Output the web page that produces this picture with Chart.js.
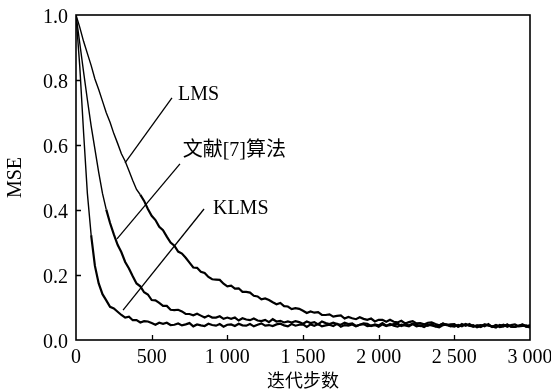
<!DOCTYPE html>
<html><head><meta charset="utf-8">
<script src="https://cdn.jsdelivr.net/npm/chart.js@4"></script>
<style>html,body{margin:0;padding:0;background:#fff}#wrap{width:551px;height:391px}</style>
</head><body><div id="wrap"><canvas id="c" width="551" height="391"></canvas></div>
<script>
const iterations = [0,25,50,75,100,125,150,175,200,225,250,275,300,325,350,375,400,425,450,475,500,525,550,575,600,625,650,675,700,725,750,775,800,825,850,875,900,925,950,975,1000,1025,1050,1075,1100,1125,1150,1175,1200,1225,1250,1275,1300,1325,1350,1375,1400,1425,1450,1475,1500,1525,1550,1575,1600,1625,1650,1675,1700,1725,1750,1775,1800,1825,1850,1875,1900,1925,1950,1975,2000,2025,2050,2075,2100,2125,2150,2175,2200,2225,2250,2275,2300,2325,2350,2375,2400,2425,2450,2475,2500,2525,2550,2575,2600,2625,2650,2675,2700,2725,2750,2775,2800,2825,2850,2875,2900,2925,2950,2975,3000];

const mseLMS = [1.000,0.962,0.919,0.882,0.845,0.803,0.771,0.735,0.699,0.670,0.635,0.605,0.573,0.550,0.521,0.491,0.463,0.447,0.428,0.403,0.382,0.369,0.348,0.338,0.318,0.300,0.290,0.272,0.266,0.253,0.238,0.223,0.222,0.210,0.206,0.194,0.187,0.186,0.185,0.173,0.165,0.167,0.158,0.159,0.148,0.148,0.146,0.136,0.134,0.125,0.128,0.123,0.116,0.110,0.114,0.104,0.103,0.095,0.098,0.096,0.090,0.083,0.088,0.084,0.086,0.077,0.077,0.079,0.072,0.074,0.076,0.066,0.071,0.067,0.064,0.070,0.065,0.062,0.066,0.057,0.062,0.062,0.056,0.062,0.056,0.054,0.059,0.051,0.055,0.058,0.051,0.052,0.048,0.053,0.054,0.049,0.045,0.051,0.046,0.048,0.049,0.041,0.049,0.044,0.049,0.041,0.044,0.046,0.042,0.049,0.040,0.045,0.043,0.047,0.041,0.046,0.048,0.042,0.043,0.045,0.040];

const mseRef7 = [1.000,0.913,0.825,0.740,0.659,0.587,0.516,0.451,0.401,0.360,0.325,0.293,0.270,0.240,0.220,0.196,0.174,0.165,0.147,0.140,0.123,0.122,0.114,0.105,0.105,0.093,0.092,0.093,0.088,0.080,0.080,0.076,0.081,0.075,0.069,0.075,0.069,0.069,0.073,0.065,0.069,0.065,0.069,0.060,0.067,0.063,0.061,0.066,0.060,0.058,0.062,0.055,0.064,0.057,0.059,0.054,0.057,0.054,0.058,0.055,0.050,0.057,0.052,0.055,0.048,0.057,0.052,0.049,0.053,0.049,0.047,0.053,0.049,0.051,0.043,0.047,0.051,0.050,0.043,0.048,0.045,0.052,0.044,0.046,0.049,0.050,0.043,0.047,0.045,0.050,0.047,0.043,0.048,0.044,0.049,0.042,0.045,0.050,0.046,0.042,0.047,0.041,0.045,0.048,0.044,0.046,0.039,0.043,0.048,0.045,0.041,0.046,0.040,0.042,0.048,0.041,0.040,0.044,0.047,0.041,0.046];

const mseKLMS = [1.000,0.841,0.639,0.452,0.323,0.228,0.174,0.141,0.122,0.102,0.097,0.087,0.077,0.069,0.072,0.061,0.061,0.054,0.058,0.057,0.052,0.047,0.053,0.050,0.053,0.046,0.047,0.051,0.045,0.048,0.052,0.042,0.048,0.045,0.043,0.050,0.046,0.044,0.049,0.041,0.047,0.048,0.043,0.050,0.045,0.044,0.049,0.042,0.047,0.051,0.044,0.046,0.043,0.048,0.050,0.045,0.042,0.049,0.044,0.047,0.048,0.040,0.048,0.044,0.049,0.042,0.045,0.047,0.043,0.050,0.041,0.046,0.044,0.048,0.042,0.047,0.049,0.043,0.044,0.046,0.041,0.048,0.043,0.049,0.044,0.041,0.047,0.045,0.042,0.049,0.042,0.045,0.040,0.047,0.045,0.042,0.039,0.046,0.048,0.043,0.041,0.046,0.042,0.049,0.044,0.041,0.045,0.040,0.047,0.045,0.042,0.038,0.046,0.043,0.047,0.041,0.040,0.044,0.048,0.042,0.039];

const seriesNames = ['LMS', '文献[7]算法', 'KLMS'];
const xTickLabels = ['0','500','1 000','1 500','2 000','2 500','3 000'];
const yTickLabels = ['0.0','0.2','0.4','0.6','0.8','1.0'];
const xTitle = '迭代步数';
const yTitle = 'MSE';

// annotation leader lines (data coordinates: [iteration, mse] start -> end)
const leaderLMS  = [[634,0.745],[324,0.545]];
const leaderRef7 = [[687,0.542],[271,0.311]];
const leaderKLMS = [[846,0.403],[311,0.092]];
// annotation label anchors (left edge, vertical middle)
const labelAnchors = [[674,0.755],[705,0.582],[905,0.405]];

function toPts(xs, ys){ return ys.map((v,i)=>({x:xs[i], y:v})); }
function leader(p){ return p.map(q=>({x:q[0], y:q[1]})); }

const serif = "'Liberation Serif','DejaVu Serif',serif";
const cjk = "'Liberation Serif','Noto Sans CJK SC',serif";

const frameAndLabels = {
  id:'frameAndLabels',
  afterDatasetsDraw(chart){
    const {ctx, chartArea:a, scales:{x, y}} = chart;
    ctx.save();
    ctx.strokeStyle = '#000';
    ctx.lineWidth = 1.6;
    ctx.strokeRect(a.left, a.top, a.right - a.left, a.bottom - a.top);
    ctx.lineWidth = 1.3;
    ctx.beginPath();
    x.ticks.forEach((t,i)=>{
      if (t.value <= x.min || t.value >= x.max) return;
      const px = Math.round(x.getPixelForTick(i)) + 0.5;
      ctx.moveTo(px, a.bottom); ctx.lineTo(px, a.bottom - 5);
    });
    y.ticks.forEach((t,i)=>{
      if (t.value <= y.min || t.value >= y.max) return;
      const py = Math.round(y.getPixelForTick(i)) + 0.5;
      ctx.moveTo(a.left, py); ctx.lineTo(a.left + 5, py);
    });
    ctx.stroke();
    ctx.fillStyle = '#000';
    ctx.textBaseline = 'middle';
    ctx.textAlign = 'left';
    seriesNames.forEach((name,i)=>{
      ctx.font = (i === 1 ? "20px " + cjk : "20px " + serif);
      ctx.fillText(name, x.getPixelForValue(labelAnchors[i][0]), y.getPixelForValue(labelAnchors[i][1]));
    });
    ctx.restore();
  }
};

const curveDs = (label, data) => ({label, data, borderColor:'#000', backgroundColor:'#000', borderWidth:2.2,
  pointRadius:0, showLine:true, tension:0, fill:false, borderJoinStyle:'miter',
  segment:{ borderWidth: c => (c.p0.parsed.y > 0.45 ? 1.4 : 2.2) } });
const leaderDs = (label, data) => ({label, data, borderColor:'#000', backgroundColor:'#000', borderWidth:1.3, pointRadius:0, showLine:true, tension:0, fill:false});

new Chart(document.getElementById('c'), {
  type:'scatter',
  data:{ datasets:[
    curveDs(seriesNames[0], toPts(iterations, mseLMS)),
    curveDs(seriesNames[1], toPts(iterations, mseRef7)),
    curveDs(seriesNames[2], toPts(iterations, mseKLMS)),
    leaderDs('leader LMS', leader(leaderLMS)),
    leaderDs('leader Ref7', leader(leaderRef7)),
    leaderDs('leader KLMS', leader(leaderKLMS))
  ]},
  options:{
    responsive:false, animation:false, devicePixelRatio:1,
    layout:{padding:{left:0, top:15, right:21, bottom:0}},
    plugins:{legend:{display:false}, tooltip:{enabled:false}},
    scales:{
      x:{ type:'linear', min:0, max:3000,
        border:{display:false}, grid:{display:false, drawTicks:false},
        ticks:{ stepSize:500, padding:6, color:'#000', font:{family:serif, size:20},
          maxRotation:0, autoSkip:false,
          callback:(v,i)=> xTickLabels[i] },
        title:{display:true, text:xTitle, color:'#000', font:{family:cjk, size:18, lineHeight:1}, padding:{top:0,bottom:0}},
        afterFit(s){ s.height = 51; s.paddingLeft = 0; s.paddingRight = 0; }
      },
      y:{ type:'linear', min:0, max:1,
        border:{display:false}, grid:{display:false, drawTicks:false},
        ticks:{ stepSize:0.2, padding:8, color:'#000', font:{family:serif, size:20}, labelOffset:3,
          callback:(v,i)=> yTickLabels[i] },
        title:{display:true, text:yTitle, color:'#000', font:{family:serif, size:20, lineHeight:1}, padding:{top:6,bottom:0}},
        afterFit(s){ s.width = 76; s.paddingTop = 0; s.paddingBottom = 0; }
      }
    }
  },
  plugins:[frameAndLabels]
});
</script>
</body></html>
